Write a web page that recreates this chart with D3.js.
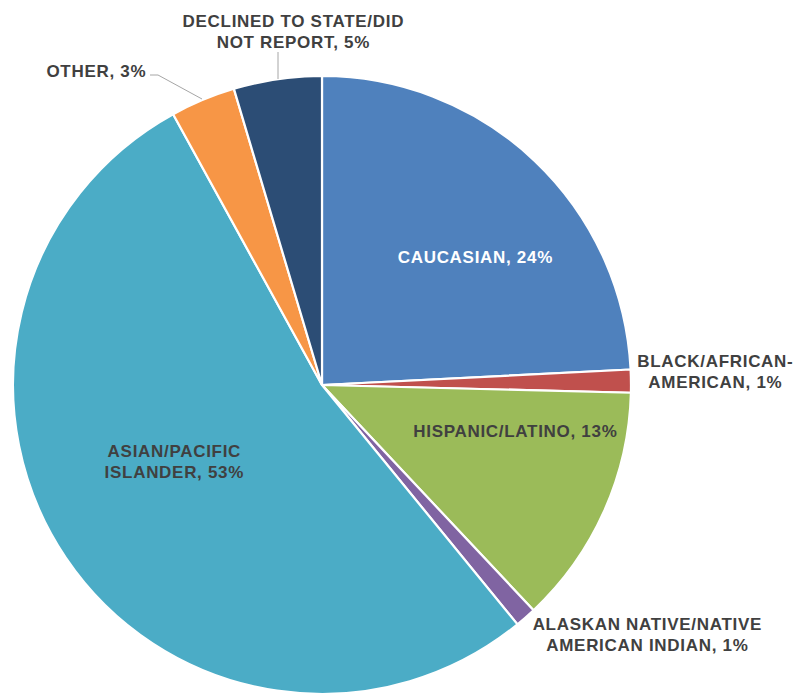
<!DOCTYPE html>
<html>
<head>
<meta charset="utf-8">
<script src="https://cdn.jsdelivr.net/npm/d3@7"></script>
<style>
  html, body { margin: 0; padding: 0; background: #fff; }
  svg { display: block; }
  text { font-family: "Liberation Sans", Arial, sans-serif; font-weight: bold; }
</style>
</head>
<body>
<svg id="chart" width="796" height="693"></svg>
<script>
// Ethnicity breakdown, percent of respondents
const categories = [
  "CAUCASIAN",
  "BLACK/AFRICAN-AMERICAN",
  "HISPANIC/LATINO",
  "ALASKAN NATIVE/NATIVE AMERICAN INDIAN",
  "ASIAN/PACIFIC ISLANDER",
  "OTHER",
  "DECLINED TO STATE/DID NOT REPORT"
];
const values = [24.2, 1.2, 12.6, 1.1, 52.9, 3.4, 4.6];
const colors = ["#4F81BD", "#C0504D", "#9BBB59", "#8064A2", "#4BACC6", "#F79646", "#2C4D75"];

// Label placement: line breaks, anchor offset from pie centre, text colour, leader line
const labelLayout = [
  { lines: ["CAUCASIAN, {p}"], dx: 153, dy: -128, fill: "#ffffff" },
  { lines: ["BLACK/AFRICAN-", "AMERICAN, {p}"], dx: 393, dy: -13, fill: "#404040" },
  { lines: ["HISPANIC/LATINO, {p}"], dx: 193, dy: 46, fill: "#404040" },
  { lines: ["ALASKAN NATIVE/NATIVE", "AMERICAN INDIAN, {p}"], dx: 325, dy: 250, fill: "#404040" },
  { lines: ["ASIAN/PACIFIC", "ISLANDER, {p}"], dx: -148, dy: 77, fill: "#404040" },
  { lines: ["OTHER, {p}"], dx: -226, dy: -314, fill: "#404040",
    leader: [[-172, -310], [-164, -310], [-120, -286]] },
  { lines: ["DECLINED TO STATE/DID", "NOT REPORT, {p}"], dx: -29, dy: -353, fill: "#404040",
    leader: [[-44, -333], [-44, -306]] }
];

const svg = d3.select("#chart");
const cx = 322, cy = 385, radius = 309;
const g = svg.append("g").attr("transform", `translate(${cx},${cy})`);

const data = categories.map((c, i) => ({ name: c, value: values[i], color: colors[i], layout: labelLayout[i] }));

const pie = d3.pie().value(d => d.value).sort(null);
const arc = d3.arc().innerRadius(0).outerRadius(radius);
const arcs = pie(data);

g.selectAll("path.slice")
  .data(arcs)
  .join("path")
  .attr("class", "slice")
  .attr("d", arc)
  .attr("fill", d => d.data.color)
  .attr("stroke", "#ffffff")
  .attr("stroke-width", 2.2)
  .attr("stroke-linejoin", "round");

// Leader lines for labels set outside the pie
const line = d3.line();
g.selectAll("path.leader")
  .data(arcs.filter(d => d.data.layout.leader))
  .join("path")
  .attr("class", "leader")
  .attr("d", d => line(d.data.layout.leader))
  .attr("fill", "none")
  .attr("stroke", "#a6a6a6")
  .attr("stroke-width", 1);

const fontSize = 17, lineHeight = 21, tracking = 0.7;
const labels = g.selectAll("text.label")
  .data(arcs)
  .join("text")
  .attr("class", "label")
  .attr("text-anchor", "middle")
  .attr("font-size", fontSize)
  .attr("letter-spacing", tracking)
  .attr("fill", d => d.data.layout.fill)
  .attr("transform", d => `translate(${d.data.layout.dx + tracking / 2},${d.data.layout.dy})`);

labels.each(function(d) {
  const pct = Math.round(d.data.value) + "%";
  const lines = d.data.layout.lines.map(s => s.replace("{p}", pct));
  const n = lines.length;
  d3.select(this).selectAll("tspan")
    .data(lines)
    .join("tspan")
    .attr("x", 0)
    .attr("y", (s, i) => (i - (n - 1) / 2) * lineHeight)
    .attr("dy", "0.35em")
    .text(s => s);
});
</script>
</body>
</html>
